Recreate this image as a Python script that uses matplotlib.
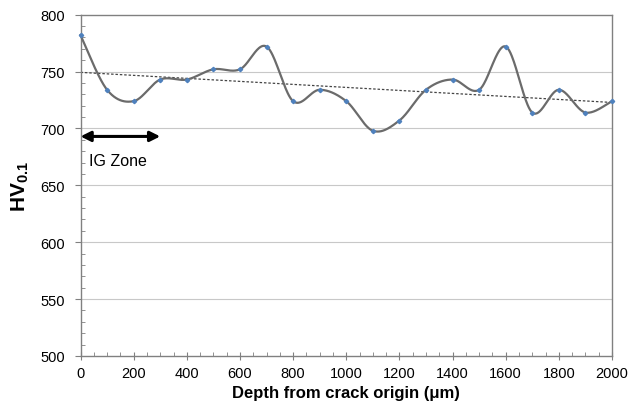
import numpy as np
import matplotlib
matplotlib.use("Agg")
import matplotlib.pyplot as plt

plt.rcParams['font.family'] = ['Liberation Sans', 'DejaVu Sans']
plt.rcParams['mathtext.fontset'] = 'custom'
plt.rcParams['mathtext.rm'] = 'Liberation Sans'
plt.rcParams['mathtext.bf'] = 'Liberation Sans:bold'

depth = [0, 100, 200, 300, 400, 500, 600, 700, 800, 900, 1000,
         1100, 1200, 1300, 1400, 1500, 1600, 1700, 1800, 1900, 2000]
hv = [782, 734, 724, 743, 743, 752, 752, 772, 724, 734, 724,
      698, 707, 734, 743, 734, 772, 714, 734, 714, 724]

x_ticks = [0, 200, 400, 600, 800, 1000, 1200, 1400, 1600, 1800, 2000]
y_ticks = [500, 550, 600, 650, 700, 750, 800]
zone_range = [0, 300]
zone_level = 693
zone_label = "IG Zone"


def smooth_curve(xs, ys, n=40):
    x = np.asarray(xs, float)
    y = np.asarray(ys, float)
    px = np.concatenate([[x[0]], x, [x[-1]]])
    py = np.concatenate([[y[0]], y, [y[-1]]])
    out_x, out_y = [], []
    t = np.linspace(0, 1, n)
    for i in range(1, len(px) - 2):
        p0x, p1x, p2x, p3x = px[i - 1], px[i], px[i + 1], px[i + 2]
        p0y, p1y, p2y, p3y = py[i - 1], py[i], py[i + 1], py[i + 2]
        b1x = p1x + (p2x - p0x) / 6
        b1y = p1y + (p2y - p0y) / 6
        b2x = p2x - (p3x - p1x) / 6
        b2y = p2y - (p3y - p1y) / 6
        bx = ((1 - t) ** 3) * p1x + 3 * ((1 - t) ** 2) * t * b1x + 3 * (1 - t) * t ** 2 * b2x + t ** 3 * p2x
        by = ((1 - t) ** 3) * p1y + 3 * ((1 - t) ** 2) * t * b1y + 3 * (1 - t) * t ** 2 * b2y + t ** 3 * p2y
        out_x.append(bx)
        out_y.append(by)
    return np.concatenate(out_x), np.concatenate(out_y)


fig = plt.figure(figsize=(6.29, 4.10), dpi=100)
ax = fig.add_axes([80.5 / 629, 1 - 357 / 410, (612 - 80.5) / 629, (357 - 15.7) / 410])

ax.set_xlim(0, 2000)
ax.set_ylim(500, 800)

for yv in y_ticks[1:-1]:
    ax.axhline(yv, color='#c8c8c8', lw=0.8, zorder=1)

# trend line
coef = np.polyfit(depth, hv, 1)
tx = np.array([0, 2000])
ax.plot(tx, np.polyval(coef, tx), color='#444444', lw=0.9, ls=(0, (2, 1.5)), zorder=2)

sx, sy = smooth_curve(depth, hv)
ax.plot(sx, sy, color='#6b6b6b', lw=1.6, zorder=3, clip_on=False)
ax.plot(depth, hv, ls='none', marker='D', ms=2.2, color='#4f81bd', zorder=4, clip_on=False)

ax.annotate('', xy=(zone_range[0], zone_level), xytext=(zone_range[1], zone_level),
            arrowprops=dict(arrowstyle='<|-|>', color='black', lw=2.2,
                            mutation_scale=15, shrinkA=0, shrinkB=0), zorder=5)
ax.text(33, 672, zone_label, fontsize=11.5, va='center', ha='left')

ax.set_xticks(x_ticks)
ax.set_yticks(y_ticks)
ax.set_xticks(np.arange(0, 2001, 50), minor=True)
ax.set_yticks(np.arange(500, 801, 10), minor=True)
ax.tick_params(axis='x', which='major', direction='inout', length=6, width=0.8,
               color='#808080', labelsize=10.5, pad=4)
ax.tick_params(axis='x', which='minor', direction='in', length=3, width=0.6, color='#808080')
ax.tick_params(axis='y', which='major', direction='out', length=4, width=0.8,
               color='#808080', labelsize=10.5, pad=7)
ax.tick_params(axis='y', which='minor', direction='in', length=3, width=0.6, color='#808080')

for s in ax.spines.values():
    s.set_color('#808080')
    s.set_linewidth(1.0)

ax.set_xlabel('Depth from crack origin (μm)', fontsize=12, fontweight='bold', labelpad=4)
ax.set_ylabel(r'$\mathbf{HV}_{\mathbf{0.1}}$', fontsize=15, labelpad=7)

fig.savefig('out.png', dpi=100, facecolor='white')
